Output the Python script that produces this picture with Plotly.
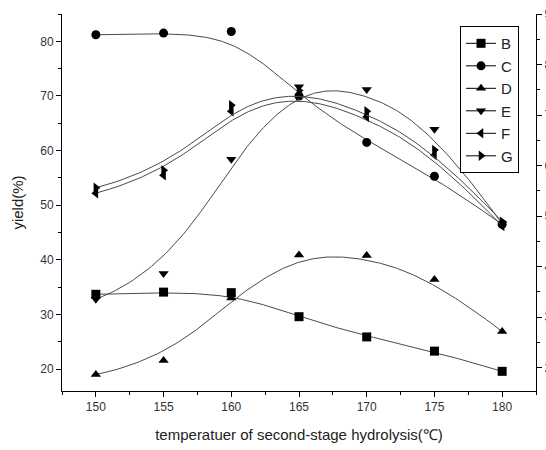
import numpy as np
import plotly.graph_objects as go

# temperature of the second-stage hydrolysis (°C)
temperature = [150, 155, 160, 165, 170, 175, 180]

# yields (%) of each product
yield_B = [33.7, 34.1, 34.0, 29.6, 25.9, 23.3, 19.6]
yield_C = [81.2, 81.5, 81.8, 70.0, 61.5, 55.3, 46.5]
yield_D = [19.0, 21.6, 33.0, 40.9, 40.8, 36.4, 26.9]
yield_E = [32.8, 37.5, 58.4, 71.7, 71.2, 63.9, 46.6]
yield_F = [52.2, 55.5, 67.2, 70.2, 66.2, 59.2, 46.2]
yield_G = [53.2, 56.4, 68.3, 71.0, 67.2, 60.1, 47.0]

series = [
    ("B", yield_B, "square"),
    ("C", yield_C, "circle"),
    ("D", yield_D, "triangle-up"),
    ("E", yield_E, "triangle-down"),
    ("F", yield_F, "triangle-left"),
    ("G", yield_G, "triangle-right"),
]

x_ticks = [150, 155, 160, 165, 170, 175, 180]
y_ticks = [20, 30, 40, 50, 60, 70, 80]
y2_ticks = [20, 30, 40, 50, 60, 70, 80, 90]


def bspline(xs, ys, n=200, k=3):
    """Clamped cubic B-spline using the points as control polygon."""
    P = np.column_stack([xs, ys]).astype(float)
    m = len(P)
    inner = np.arange(1, m - k)
    knots = np.concatenate([np.zeros(k + 1), inner, np.full(k + 1, m - k)]).astype(float)
    ts = np.linspace(0, m - k, n)
    out = []
    for t in ts:
        if t >= knots[m]:
            s = m - 1
        else:
            s = np.searchsorted(knots, t, side="right") - 1
        d = [P[j + s - k].copy() for j in range(k + 1)]
        for r in range(1, k + 1):
            for j in range(k, r - 1, -1):
                i = j + s - k
                den = knots[i + k - r + 1] - knots[i]
                a = 0.0 if den == 0 else (t - knots[i]) / den
                d[j] = (1 - a) * d[j - 1] + a * d[j]
        out.append(d[k])
    out = np.array(out)
    return out[:, 0], out[:, 1]


def with_gaps(seq):
    """Interleave None so a line style shows in the legend but no segments are drawn."""
    out = []
    for v in seq:
        out.extend([v, None])
    return out[:-1]


fig = go.Figure()
line_color = "#4a4a4a"
for name, vals, sym in series:
    cx, cy = bspline(temperature, vals)
    fig.add_trace(go.Scatter(
        x=cx, y=cy, mode="lines", line=dict(color=line_color, width=1),
        showlegend=False, hoverinfo="skip", legendgroup=name))
    fig.add_trace(go.Scatter(
        x=with_gaps(temperature), y=with_gaps(vals), mode="lines+markers",
        name=name, legendgroup=name, connectgaps=False,
        line=dict(color="black", width=1),
        marker=dict(symbol=sym, color="black", size=9)))

# invisible trace anchoring the right-hand axis
fig.add_trace(go.Scatter(x=[150], y=[50], yaxis="y2", mode="markers",
                         marker=dict(opacity=0), showlegend=False, hoverinfo="skip"))

tick_font = dict(family="Liberation Sans, Arial, sans-serif", size=12, color="#333")
axis_common = dict(showline=True, linecolor="black", linewidth=1, ticks="outside",
                   ticklen=5, tickcolor="black", showgrid=False, zeroline=False,
                   tickfont=tick_font, automargin=False)

fig.update_layout(
    width=546, height=450,
    margin=dict(l=62, r=10, t=14, b=59),
    paper_bgcolor="white", plot_bgcolor="white",
    showlegend=True,
    font=dict(family="Liberation Sans, Arial, sans-serif", color="#222"),
    xaxis=dict(range=[147.5, 182.5], tickvals=x_ticks, **axis_common,
               minor=dict(ticks="outside", ticklen=3, dtick=2.5, tick0=147.5, tickcolor="black"),
               title=dict(text="temperatuer of second-stage hydrolysis(℃)",
                          font=dict(size=15, color="#222"), standoff=16)),
    yaxis=dict(range=[16, 85], tickvals=y_ticks, **axis_common,
               minor=dict(ticks="outside", ticklen=3, dtick=5, tick0=15, tickcolor="black"),
               title=dict(text="yield(%)", font=dict(size=15, color="#222"), standoff=12)),
    yaxis2=dict(range=[15.4, 90], tickvals=y2_ticks, overlaying="y", side="right",
                **axis_common,
                minor=dict(ticks="outside", ticklen=3, dtick=5, tick0=15, tickcolor="black")),
    legend=dict(x=0.8397, y=0.968, xanchor="left", yanchor="top",
                bordercolor="black", borderwidth=1, bgcolor="white",
                font=dict(size=15, color="#222"), itemwidth=30,
                tracegroupgap=0),
)

fig.write_html("out.html")
